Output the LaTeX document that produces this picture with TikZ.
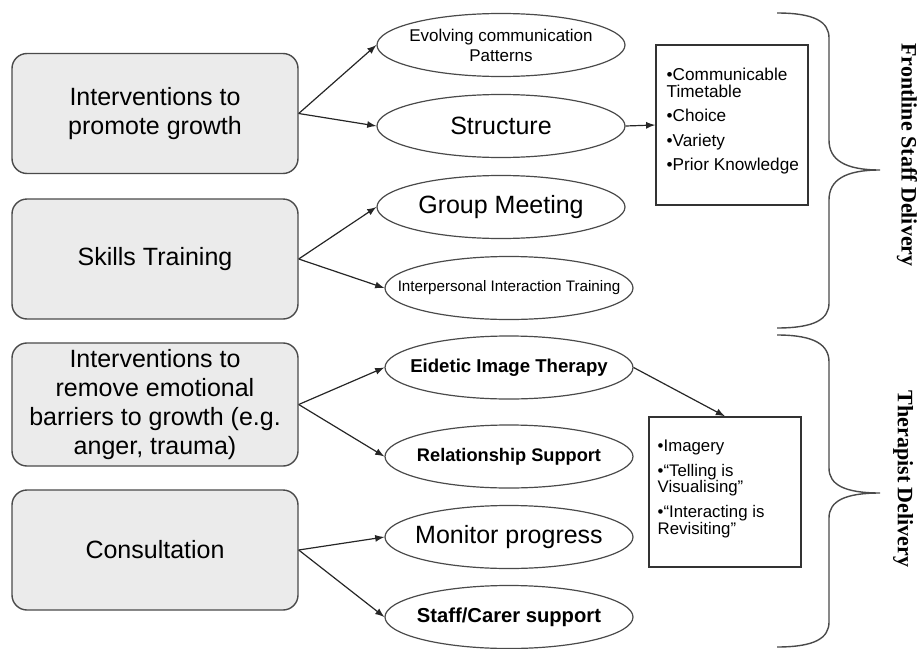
\documentclass[tikz,border=0pt]{standalone}
\usepackage{fontspec}
\setmainfont{Liberation Sans}
\newfontfamily\braceserif{Liberation Serif}
\usetikzlibrary{shapes.geometric}
\definecolor{boxfill}{HTML}{EBEBEB}
\definecolor{edgegray}{HTML}{4A4A4A}
\begin{document}
\begin{tikzpicture}[x=0.5pt,y=0.5pt,
  area/.style={draw=edgegray,fill=boxfill,rounded corners=7.5pt,line width=0.7pt,minimum width=143pt,minimum height=60pt,align=center,font=\fontsize{12.5pt}{14.4pt}\selectfont},
  oval/.style={draw=edgegray,ellipse,line width=0.6pt,minimum width=124pt,minimum height=31.5pt,inner xsep=-20pt,inner ysep=0pt,align=center},
  notebox/.style={draw=black!80,line width=0.7pt,minimum width=76pt},
  notes/.style={align=left,inner sep=0pt,anchor=north west},
  flow/.style={-latex,line width=0.6pt,draw=black!85}]
\useasboundingbox (0,0) rectangle (921,-648);
% left column
\node[area] (grow) at (155,-113.5) {Interventions to\\promote growth};
\node[area] (skills) at (155,-259) {Skills Training};
\node[area] (barriers) at (155,-404.5) {Interventions to\\remove emotional\\barriers to growth (e.g.\\anger, trauma)};
\node[area] (consult) at (155,-550) {Consultation};
% ovals
\node[oval,font=\fontsize{8.5pt}{10pt}\selectfont] (evolve) at (501,-45) {Evolving communication\\Patterns};
\node[oval,font=\fontsize{12.5pt}{14pt}\selectfont] (struct) at (501,-126) {Structure};
\node[oval,font=\fontsize{12.5pt}{14pt}\selectfont] (meet) at (501,-207) {Group Meeting};
\node[oval,font=\fontsize{7.6pt}{9pt}\selectfont] (interp) at (509,-288) {Interpersonal Interaction Training};
\node[oval,font=\bfseries\fontsize{9.3pt}{11pt}\selectfont] (eidetic) at (509,-367.5) {Eidetic Image Therapy};
\node[oval,font=\bfseries\fontsize{9.1pt}{11pt}\selectfont] (relation) at (509,-456.5) {Relationship Support};
\node[oval,font=\fontsize{12.5pt}{14pt}\selectfont] (monitor) at (509,-537) {Monitor progress};
\node[oval,font=\bfseries\fontsize{10.1pt}{12pt}\selectfont] (support) at (509,-617) {Staff/Carer support};
% note boxes
\node[notebox,minimum height=80pt] (structbox) at (732,-125) {};
\node[notes,font={\fontsize{8.6pt}{8.6pt}\selectfont}] (structlist) at ([shift={(11,-23)}]structbox.north west) {•Communicable\\Timetable\\[3.6pt]•Choice\\[3.6pt]•Variety\\[3.6pt]•Prior Knowledge};
\node[notebox,minimum height=75pt] (eidbox) at (725,-492) {};
\node[notes,font={\fontsize{8.4pt}{8.2pt}\selectfont}] (eidlist) at ([shift={(9,-23)}]eidbox.north west) {•Imagery\\[4.3pt]•“Telling is\\Visualising”\\[4.3pt]•“Interacting is\\Revisiting”};
% connectors
\draw[flow] (grow.east)--(evolve.west);
\draw[flow] (grow.east)--(struct.west);
\draw[flow] (skills.east)--(meet.west);
\draw[flow] (skills.east)--(interp.west);
\draw[flow] (barriers.east)--(eidetic.west);
\draw[flow] (barriers.east)--(relation.west);
\draw[flow] (consult.east)--(monitor.west);
\draw[flow] (consult.east)--(support.west);
\draw[flow] (struct.east)--(structbox.west);
\draw[flow] (eidetic.east)--(eidbox.north);
% braces
\draw[edgegray,line width=0.7pt] (777,-13) .. controls (815,-13) and (829,-22) .. (829,-38) -- (829,-140) .. controls (829,-160) and (845,-170) .. (880,-170) .. controls (845,-170) and (829,-180) .. (829,-200) -- (829,-303) .. controls (829,-319) and (815,-328) .. (777,-328);
\draw[edgegray,line width=0.7pt] (777,-335) .. controls (815,-335) and (829,-345) .. (829,-362) -- (829,-468) .. controls (829,-485) and (845,-493) .. (880,-493) .. controls (845,-493) and (829,-501) .. (829,-518) -- (829,-622) .. controls (829,-638) and (815,-647) .. (777,-647);
\node[rotate=-90,font=\braceserif\bfseries\fontsize{11pt}{13pt}\selectfont] (frontline) at (907,-155) {Frontline Staff Delivery};
\node[rotate=-90,font=\braceserif\bfseries\fontsize{11pt}{13pt}\selectfont] (therapist) at (903,-479) {Therapist Delivery};
\end{tikzpicture}
\end{document}
